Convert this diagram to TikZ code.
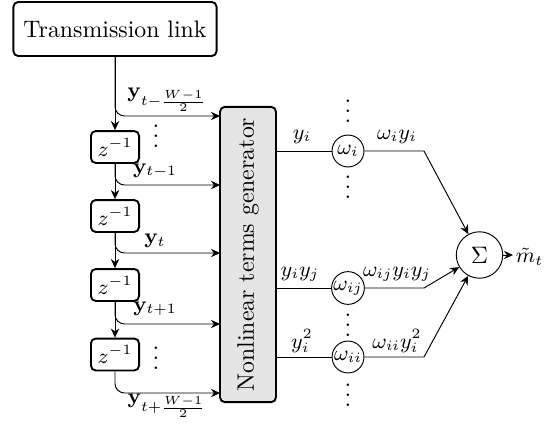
\documentclass[tikz,border=0pt]{standalone}
\usetikzlibrary{arrows.meta}
\begin{document}
\begin{tikzpicture}[x=0.42pt,y=-0.42pt,
  blk/.style={draw,thick,rounded corners=2pt,inner sep=0pt},
  arr/.style={-{Stealth[length=3.8pt,width=3.5pt]}},
  lab/.style={font=\small,inner sep=0pt},
  wc/.style={draw,circle,minimum size=13.4pt,inner sep=0pt,font=\small},
  dts/.style={anchor=base,inner sep=0pt,text height=9.5pt,text depth=0pt}]
\useasboundingbox (0,0) rectangle (559,426);
% left column
\node[blk,minimum width=85.3pt,minimum height=22.7pt] (tl) at (115,29) {Transmission link};
\foreach \i/\y in {1/147,2/216,3/285,4/354.5}
  \node[blk,font=\small,minimum width=20.2pt,minimum height=13.4pt] (z\i) at (115,\y) {$z^{-1}$};
\node[blk,fill=gray!20,minimum width=23.5pt,minimum height=124pt] (gen) at (248,254.5) {};
\node[rotate=90,inner sep=0pt] (gentxt) at (gen.center) {Nonlinear terms generator};
\foreach \i/\y in {1/116,2/185,3/253,4/324,5/393}
  \coordinate (g\i) at (220,\y);
\draw[arr] (tl) -- (z1);
\draw[arr] (z1) -- (z2);
\draw[arr] (z2) -- (z3);
\draw[arr] (z3) -- (z4);
\draw[arr,rounded corners=4pt] (tl.south) |- (g1);
\draw[arr,rounded corners=4pt] (z1.south) |- (g2);
\draw[arr,rounded corners=4pt] (z2.south) |- (g3);
\draw[arr,rounded corners=4pt] (z3.south) |- (g4);
\draw[arr,rounded corners=4pt] (z4.south) |- (g5);
\node[lab] (ly1) at (167,100) {$\mathbf{y}_{t-\frac{W-1}{2}}$};
\node[lab] (ly2) at (155,171) {$\mathbf{y}_{t-1}$};
\node[lab] (ly3) at (155,241) {$\mathbf{y}_{t}$};
\node[lab] (ly4) at (155,309) {$\mathbf{y}_{t+1}$};
\node[lab] (ly5) at (167,406) {$\mathbf{y}_{t+\frac{W-1}{2}}$};
\node[dts] (d1) at (156,147) {$\vdots$};
\node[dts] (d2) at (156,369) {$\vdots$};
% right part
\node[wc] (wi) at (348,151) {$\omega_i$};
\node[wc] (wij) at (348,288) {$\omega_{ij}$};
\node[wc] (wii) at (348,357) {$\omega_{ii}$};
\node[draw,circle,minimum size=19.5pt,inner sep=0pt] (sig) at (479.5,255) {$\Sigma$};
\coordinate (k1) at (424,151);
\coordinate (k2) at (424,288);
\coordinate (k3) at (424,357);
\draw (gen.east |- wi) -- (wi);
\draw (gen.east |- wij) -- (wij);
\draw (gen.east |- wii) -- (wii);
\draw[arr] (wi) -- (k1) -- (sig);
\draw[arr] (wij) -- (k2) -- (sig);
\draw[arr] (wii) -- (k3) -- (sig);
\node[anchor=west,inner sep=1pt,font=\small] (mt) at (513,257) {$\tilde{m}_t$};
\draw[arr] (sig.east) -- (mt.west |- sig.east);
\node[lab] (lo1) at (302,137) {$y_i$};
\node[lab] (lo2) at (397,137) {$\omega_i y_i$};
\node[lab] (lo3) at (300,274) {$y_i y_j$};
\node[lab] (lo4) at (397,274) {$\omega_{ij} y_i y_j$};
\node[lab] (lo5) at (302,341) {$y_i^2$};
\node[lab] (lo6) at (397,341) {$\omega_{ii} y_i^2$};
\node[dts] (d3) at (348,122) {$\vdots$};
\node[dts] (d4) at (348,198) {$\vdots$};
\node[dts] (d5) at (348,336) {$\vdots$};
\node[dts] (d6) at (348,406) {$\vdots$};
\end{tikzpicture}
\end{document}
